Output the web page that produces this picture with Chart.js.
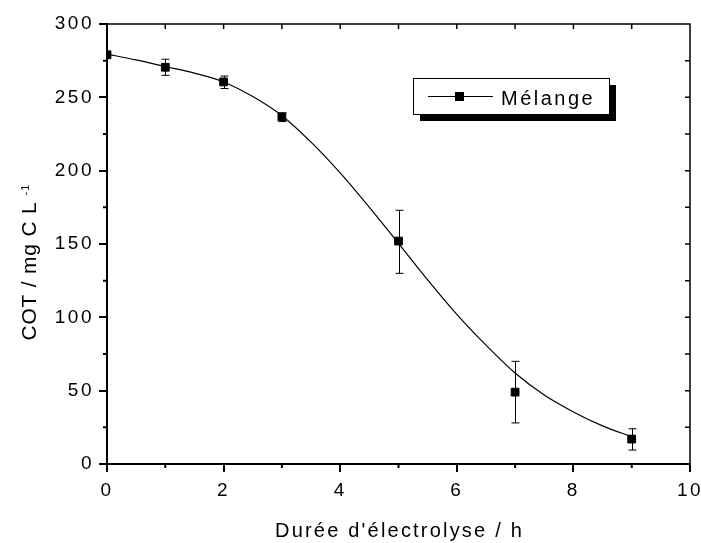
<!DOCTYPE html>
<html>
<head>
<meta charset="utf-8">
<script src="https://cdn.jsdelivr.net/npm/chart.js@4"></script>
<style>
  html, body { margin: 0; padding: 0; background: #fff; }
</style>
</head>
<body>
<canvas id="cot" width="701" height="543"></canvas>
<script>
// measured COT (mg C/L) vs electrolysis time (h), with error bars
const hours = [0, 1, 2, 3, 5, 7, 9];
const cot = [279, 270.5, 260.5, 236.5, 152, 49, 17];
const cotHigh = [279, 276, 264.5, 239.5, 173, 70, 24];
const cotLow = [279, 265, 256, 233.5, 130, 28, 9.5];

// fitted curve
const fitHours = [0, 0.5, 1, 1.5, 2, 2.5, 3, 3.5, 4, 4.5, 5, 5.5, 6, 6.5, 7, 7.5, 8, 8.5, 9];
const fitCot = [279.5, 275.5, 271, 266.5, 260.5, 250.5, 237.5, 219.5, 198.5, 175, 150.5, 125.5, 102, 81, 62, 47, 35.5, 26, 18.6];

const xTicks = [0, 2, 4, 6, 8, 10];
const yTicks = [0, 50, 100, 150, 200, 250, 300];
const xMinor = [1, 3, 5, 7, 9];
const yMinor = [25, 75, 125, 175, 225, 275];

const seriesName = 'Mélange';
const xTitle = "Durée d'électrolyse / h";
const yTitle = 'COT / mg C L';
const yTitleSup = '-1';

const font = "'Liberation Sans', Arial, sans-serif";

// wide text like the original export
const spacing = {
  id: 'spacing',
  beforeLayout(chart) { chart.ctx.letterSpacing = '2.5px'; },
  beforeDraw(chart) { chart.ctx.letterSpacing = '2.5px'; }
};

const errorBars = {
  id: 'errorBars',
  beforeDatasetsDraw(chart) {
    const { ctx, scales: { x, y } } = chart;
    ctx.save();
    ctx.strokeStyle = '#000';
    ctx.lineWidth = 1;
    hours.forEach((h, i) => {
      if (cotHigh[i] === cotLow[i]) return;
      const px = Math.round(x.getPixelForValue(h)) + 0.5;
      const top = y.getPixelForValue(cotHigh[i]);
      const bot = y.getPixelForValue(cotLow[i]);
      ctx.beginPath();
      ctx.moveTo(px, top); ctx.lineTo(px, bot);
      ctx.moveTo(px - 4, top); ctx.lineTo(px + 4, top);
      ctx.moveTo(px - 4, bot); ctx.lineTo(px + 4, bot);
      ctx.stroke();
    });
    ctx.restore();
  }
};

const frame = {
  id: 'frame',
  afterDraw(chart) {
    const { ctx, chartArea: a, scales: { x, y } } = chart;
    ctx.save();
    ctx.strokeStyle = '#000';
    // top + right border
    ctx.lineWidth = 1.5;
    ctx.beginPath();
    ctx.moveTo(a.left, a.top); ctx.lineTo(a.right, a.top); ctx.lineTo(a.right, a.bottom);
    ctx.stroke();
    // inward ticks on top/right
    ctx.beginPath();
    xTicks.concat(xMinor).forEach(v => {
      if (v <= x.min || v >= x.max) return;
      const px = x.getPixelForValue(v);
      ctx.moveTo(px, a.top); ctx.lineTo(px, a.top + 5);
    });
    yTicks.concat(yMinor).forEach(v => {
      if (v <= y.min || v >= y.max) return;
      const py = y.getPixelForValue(v);
      ctx.moveTo(a.right, py); ctx.lineTo(a.right - 5, py);
    });
    ctx.stroke();
    // minor outward ticks bottom/left
    ctx.lineWidth = 2;
    ctx.beginPath();
    xMinor.forEach(v => {
      const px = x.getPixelForValue(v);
      ctx.moveTo(px, a.bottom); ctx.lineTo(px, a.bottom + 4);
    });
    yMinor.forEach(v => {
      const py = y.getPixelForValue(v);
      ctx.moveTo(a.left, py); ctx.lineTo(a.left - 4, py);
    });
    ctx.stroke();

    // axis titles
    ctx.fillStyle = '#000';
    ctx.font = '20px ' + font;
    ctx.letterSpacing = '2.2px';
    ctx.textAlign = 'center';
    ctx.textBaseline = 'alphabetic';
    ctx.fillText(xTitle, (a.left + a.right) / 2 + 1, 537);

    ctx.translate(36, 271);
    ctx.rotate(-Math.PI / 2);
    ctx.font = '21px ' + font;
    ctx.letterSpacing = '0.8px';
    const w = ctx.measureText(yTitle).width;
    ctx.fillText(yTitle, 0, 0);
    ctx.font = '11px ' + font;
    ctx.letterSpacing = '1px';
    ctx.textAlign = 'left';
    ctx.fillText(yTitleSup, w / 2 + 6, -7);
    ctx.restore();
  }
};

const legendBox = {
  id: 'legendBox',
  afterDraw(chart) {
    const { ctx, chartArea: a } = chart;
    const ds = chart.data.datasets[0];
    const bx = a.left + 306, by = a.top + 54, bw = 196, bh = 36, sh = 7;
    ctx.save();
    ctx.fillStyle = '#000';
    ctx.fillRect(bx + sh, by + sh, bw, bh);
    ctx.fillStyle = '#fff';
    ctx.fillRect(bx, by, bw, bh);
    ctx.strokeStyle = '#000';
    ctx.lineWidth = 1;
    ctx.strokeRect(bx + 0.5, by + 0.5, bw, bh);
    const ly = by + 18.5;
    ctx.beginPath();
    ctx.moveTo(bx + 15, ly); ctx.lineTo(bx + 80, ly);
    ctx.stroke();
    ctx.fillStyle = ds.backgroundColor;
    ctx.fillRect(bx + 42, ly - 4.5, 9, 9);
    ctx.font = '20px ' + font;
    ctx.letterSpacing = '2.5px';
    ctx.textAlign = 'left';
    ctx.textBaseline = 'alphabetic';
    ctx.fillText(ds.label, bx + 88, by + 27);
    ctx.restore();
  }
};

new Chart(document.getElementById('cot'), {
  type: 'scatter',
  data: {
    datasets: [
      {
        type: 'scatter',
        label: seriesName,
        data: hours.map((h, i) => ({ x: h, y: cot[i] })),
        pointStyle: 'rect',
        pointRadius: 5.5,
        backgroundColor: '#000',
        borderColor: '#000',
        borderWidth: 1,
        clip: 0
      },
      {
        type: 'line',
        label: 'fit',
        data: fitHours.map((h, i) => ({ x: h, y: fitCot[i] })),
        borderColor: '#000',
        borderWidth: 1.2,
        pointRadius: 0,
        cubicInterpolationMode: 'monotone',
        fill: false
      }
    ]
  },
  options: {
    responsive: false,
    animation: false,
    layout: { padding: { top: 24, right: 11, left: 0, bottom: 0 } },
    plugins: { legend: { display: false }, tooltip: { enabled: false } },
    scales: {
      x: {
        type: 'linear', min: 0, max: 10,
        afterBuildTicks: s => { s.ticks = xTicks.map(v => ({ value: v })); },
        afterFit: s => { s.height = 79; s.paddingLeft = 0; s.paddingRight = 0; },
        ticks: { color: '#000', font: { family: font, size: 19 }, padding: 7, maxRotation: 0, autoSkip: false },
        grid: { drawOnChartArea: false, tickLength: 8, color: '#000', lineWidth: 2 },
        border: { color: '#000', width: 2 }
      },
      y: {
        type: 'linear', min: 0, max: 300,
        afterBuildTicks: s => { s.ticks = yTicks.map(v => ({ value: v })); },
        afterFit: s => { s.width = 107; s.paddingTop = 0; s.paddingBottom = 0; },
        ticks: { color: '#000', font: { family: font, size: 19 }, padding: 5, autoSkip: false },
        grid: { drawOnChartArea: false, tickLength: 8, color: '#000', lineWidth: 2 },
        border: { color: '#000', width: 2 }
      }
    }
  },
  plugins: [spacing, errorBars, frame, legendBox]
});
</script>
</body>
</html>
